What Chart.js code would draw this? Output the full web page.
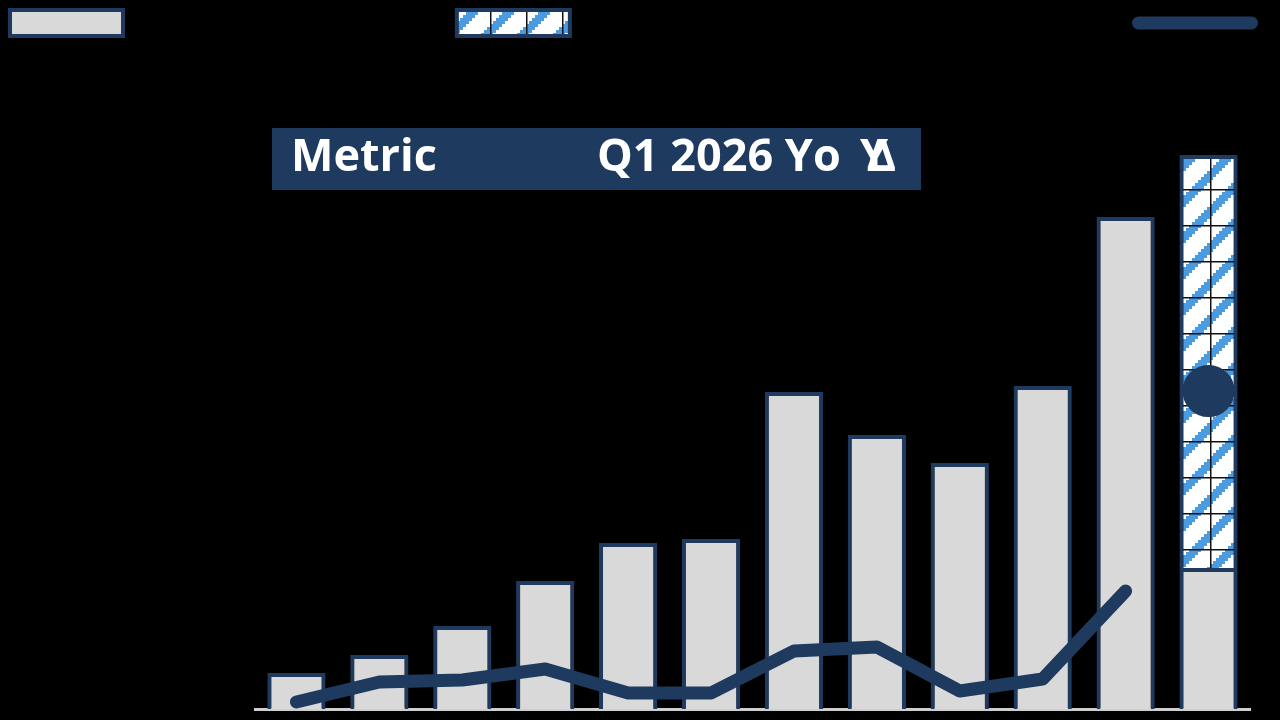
<!DOCTYPE html>
<html lang="en">
  <head>
    <meta charset="UTF-8" />
    <title>Quarterly revenue vs YoY</title>
    <script src="https://cdn.jsdelivr.net/npm/chart.js@4.4.1/dist/chart.umd.min.js"></script>
    <style>
      html, body { margin: 0; padding: 0; background: #000; }
      #wrap { width: 1280px; height: 720px; position: relative; }
    </style>
  </head>
  <body>
    <div id="wrap"><canvas id="myChart"></canvas></div>

    <script>
      // values
      const quarters = ['Q2 2023', 'Q3 2023', 'Q4 2023', 'Q1 2024', 'Q2 2024', 'Q3 2024',
                        'Q4 2024', 'Q1 2025', 'Q2 2025', 'Q3 2025', 'Q4 2025', 'Q1 2026'];
      const reported = [3.6, 5.4, 8.3, 12.8, 16.6, 17.0, 31.7, 27.4, 24.6, 32.3, 49.2, 14.1];
      const guidance = [null, null, null, null, null, null, null, null, null, null, null, 41.3];
      const yoyDelta = [0.7, 2.7, 2.9, 4.0, 1.6, 1.6, 5.8, 6.2, 1.8, 3.0, 11.8, 31.8];
      const seriesNames = ['Quarterly revenue in $ bn', 'Q1 2026 guidance above consensus (USD bn)', ''];
      const legendShapes = ['rect', 'rect', 'line'];
      const headerCols = ['Metric', 'Q1 2026 YoY Δ'];

      const NAVY = '#1f3a5f';
      const GREY = '#d9d9d9';
      const BLUE = '#4a9be0';
      const Y_MAX = 66.3;

      function makeHatch() {
        const small = document.createElement('canvas');
        small.width = small.height = 12;
        const s = small.getContext('2d');
        s.fillStyle = '#fff';
        s.fillRect(0, 0, 12, 12);
        s.fillStyle = BLUE;
        for (let y = 0; y < 12; y++) {
          for (let x = 0; x < 12; x++) {
            const u = (x + y + 1) % 12;
            if (u >= 6 && u < 10) s.fillRect(x, y, 1, 1);
          }
        }
        const tile = document.createElement('canvas');
        tile.width = tile.height = 36;
        const t = tile.getContext('2d');
        t.imageSmoothingEnabled = false;
        t.drawImage(small, 0, 0, 36, 36);
        t.fillStyle = '#111';
        t.fillRect(0, 0, 36, 1.5);
        t.fillRect(0, 0, 1.5, 36);
        const pat = t.createPattern(tile, 'repeat');
        pat.setTransform(new DOMMatrix().translate(22, 9));
        return pat;
      }

      // header bar drawn over the plot
      const headerBar = {
        id: 'headerBar',
        afterDraw(chart) {
          const ctx = chart.ctx;
          ctx.save();
          ctx.fillStyle = NAVY;
          ctx.fillRect(272, 128, 649, 62);
          ctx.fillStyle = '#fff';
          ctx.font = "bold 45px 'Open Sans', sans-serif";
          ctx.textBaseline = 'alphabetic';
          ctx.textAlign = 'left';
          ctx.fillText(headerCols[0], 291, 171);
          const txt = headerCols[1];
          ctx.fillText(txt.slice(0, 10), 597, 171);   // "Q1 2026 Yo"
          ctx.fillText(txt.slice(10, 11), 860, 171);  // "Y"
          ctx.textAlign = 'right';
          ctx.fillText(txt.slice(12), 896, 171);      // "Δ"
          ctx.restore();
        }
      };

      window.addEventListener('load', setup);

      function setup() {
        Chart.defaults.font.family = "'Open Sans', sans-serif";
        const ctx = document.getElementById('myChart').getContext('2d');
        const hatch = makeHatch();

        new Chart(ctx, {
          type: 'bar',
          data: {
            labels: quarters,
            datasets: [
              {
                label: seriesNames[0],
                data: reported,
                backgroundColor: GREY,
                borderColor: NAVY,
                borderWidth: 4,
                barPercentage: 0.78,
                categoryPercentage: 0.9
              },
              {
                label: seriesNames[1],
                data: guidance,
                backgroundColor: hatch,
                borderColor: NAVY,
                borderWidth: 4,
                barPercentage: 0.78,
                categoryPercentage: 0.9
              },
              {
                type: 'line',
                label: seriesNames[2],
                data: yoyDelta,
                yAxisID: 'y1',
                order: -1,
                borderColor: NAVY,
                backgroundColor: NAVY,
                borderWidth: 13,
                borderCapStyle: 'round',
                borderJoinStyle: 'round',
                tension: 0,
                pointRadius: yoyDelta.map((v, i) => i === yoyDelta.length - 1 ? 25 : 0),
                pointBackgroundColor: NAVY,
                pointBorderColor: NAVY,
                pointBorderWidth: 2,
                segment: {
                  borderColor: c => c.p1DataIndex === yoyDelta.length - 1 ? 'transparent' : undefined
                }
              }
            ]
          },
          options: {
            responsive: true,
            maintainAspectRatio: false,
            animation: false,
            layout: { autoPadding: false, padding: { bottom: 11 } },
            plugins: {
              tooltip: { enabled: false },
              legend: {
                position: 'top',
                align: 'start',
                labels: {
                  color: '#000',
                  font: { size: 26 },
                  usePointStyle: true,
                  pointStyleWidth: 113,
                  boxHeight: 26,
                  padding: 10,
                  sort: (a, b) => a.datasetIndex - b.datasetIndex,
                  generateLabels(chart) {
                    const items = Chart.defaults.plugins.legend.labels.generateLabels(chart);
                    items.forEach(it => {
                      it.pointStyle = legendShapes[it.datasetIndex];
                      if (it.pointStyle === 'line') {
                        it.lineWidth = 13;
                        it.lineCap = 'round';
                        it.strokeStyle = NAVY;
                      } else {
                        it.lineWidth = 4;
                      }
                    });
                    return items;
                  }
                }
              }
            },
            scales: {
              x: {
                stacked: true,
                grid: { display: false, drawTicks: false },
                ticks: { display: false },
                border: { color: '#cfcfcf', width: 3 },
                afterFit: s => { s.height = 0; }
              },
              y: {
                stacked: true,
                min: 0,
                max: Y_MAX,
                grid: { display: false, drawTicks: false },
                ticks: { display: false },
                border: { display: false },
                afterFit: s => { s.width = 255; }
              },
              y1: {
                position: 'right',
                min: 0,
                max: Y_MAX,
                grid: { display: false, drawTicks: false },
                ticks: { display: false },
                border: { display: false },
                afterFit: s => { s.width = 30; }
              }
            }
          },
          plugins: [headerBar]
        });
      }
    </script>
  </body>
</html>
